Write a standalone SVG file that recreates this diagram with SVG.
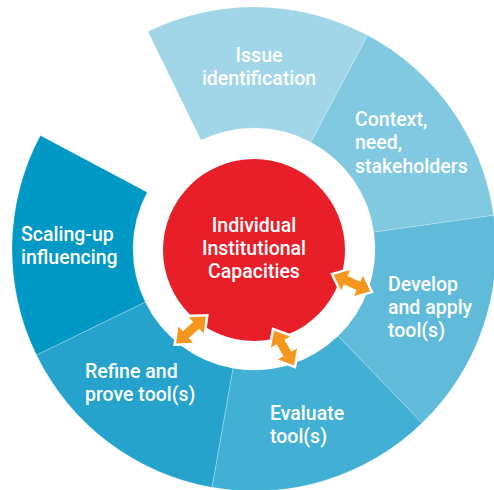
<svg xmlns="http://www.w3.org/2000/svg" width="494" height="490" viewBox="0 0 494 490">
<defs>
<style>
.seg{stroke:#ffffff;stroke-opacity:0.3;stroke-width:0.8}
.t{font-family:Roboto,"Open Sans","Liberation Sans",sans-serif;font-weight:500;font-size:19.5px;fill:#ffffff}
.c{text-anchor:middle}
.arr{fill:#f5961e;stroke:#ffffff;stroke-width:5;stroke-linejoin:miter;paint-order:stroke}
</style>
<path id="dblarrow" d="M -20 0 L -7 -11 L -7 -4.5 L 7 -4.5 L 7 -11 L 20 0 L 7 11 L 7 4.5 L -7 4.5 L -7 11 Z"/>
</defs>
<rect width="494" height="490" fill="#ffffff"/>
<g id="issue">
<path class="seg" fill="#a0d6e8" d="M147.91 31.49 A242 242 0 0 1 367.61 35.33 L310.81 142.16 A121 121 0 0 0 200.96 140.25 Z"/>
<text class="t c" x="259" y="62">Issue</text>
<text class="t c" x="259" y="85">identification</text>
</g>
<g id="context">
<path class="seg" fill="#80c9e1" d="M367.61 35.33 A242 242 0 0 1 493.65 215.32 L373.82 232.16 A121 121 0 0 0 310.81 142.16 Z"/>
<text class="t" x="355" y="126">Context,</text>
<text class="t" x="355" y="149">need,</text>
<text class="t" x="355" y="173">stakeholders</text>
</g>
<g id="develop">
<path class="seg" fill="#60bbda" d="M493.65 215.32 A242 242 0 0 1 422.11 423.08 L338.05 336.04 A121 121 0 0 0 373.82 232.16 Z"/>
<text class="t" x="388" y="291">Develop</text>
<text class="t" x="388" y="314">and apply</text>
<text class="t" x="388" y="337">tool(s)</text>
</g>
<g id="evaluate">
<path class="seg" fill="#42afd4" d="M422.11 423.08 A242 242 0 0 1 211.98 487.32 L232.99 368.16 A121 121 0 0 0 338.05 336.04 Z"/>
<text class="t" x="270" y="420">Evaluate</text>
<text class="t" x="270" y="443">tool(s)</text>
</g>
<g id="refine">
<path class="seg" fill="#25a3cd" d="M211.98 487.32 A242 242 0 0 1 36.49 355.09 L145.25 302.04 A121 121 0 0 0 232.99 368.16 Z"/>
<text class="t" x="85" y="378">Refine and</text>
<text class="t" x="85" y="401">prove tool(s)</text>
</g>
<g id="scaling">
<path class="seg" fill="#0098c5" d="M36.49 355.09 A242 242 0 0 1 40.33 135.39 L147.16 192.19 A121 121 0 0 0 145.25 302.04 Z"/>
<text class="t" x="21" y="241">Scaling-up</text>
<text class="t" x="21" y="264">influencing</text>
</g>
<g id="center">
<circle cx="254" cy="250" r="91" fill="#e81e28"/>
<text class="t c" x="254" y="232">Individual</text>
<text class="t c" x="254" y="255">Institutional</text>
<text class="t c" x="254" y="278">Capacities</text>
</g>
<g id="connectors">
<use href="#dblarrow" class="arr" transform="translate(352 283) rotate(24)"/>
<use href="#dblarrow" class="arr" transform="translate(284 348) rotate(60)"/>
<use href="#dblarrow" class="arr" transform="translate(191 330) rotate(-42)"/>
</g>
</svg>
